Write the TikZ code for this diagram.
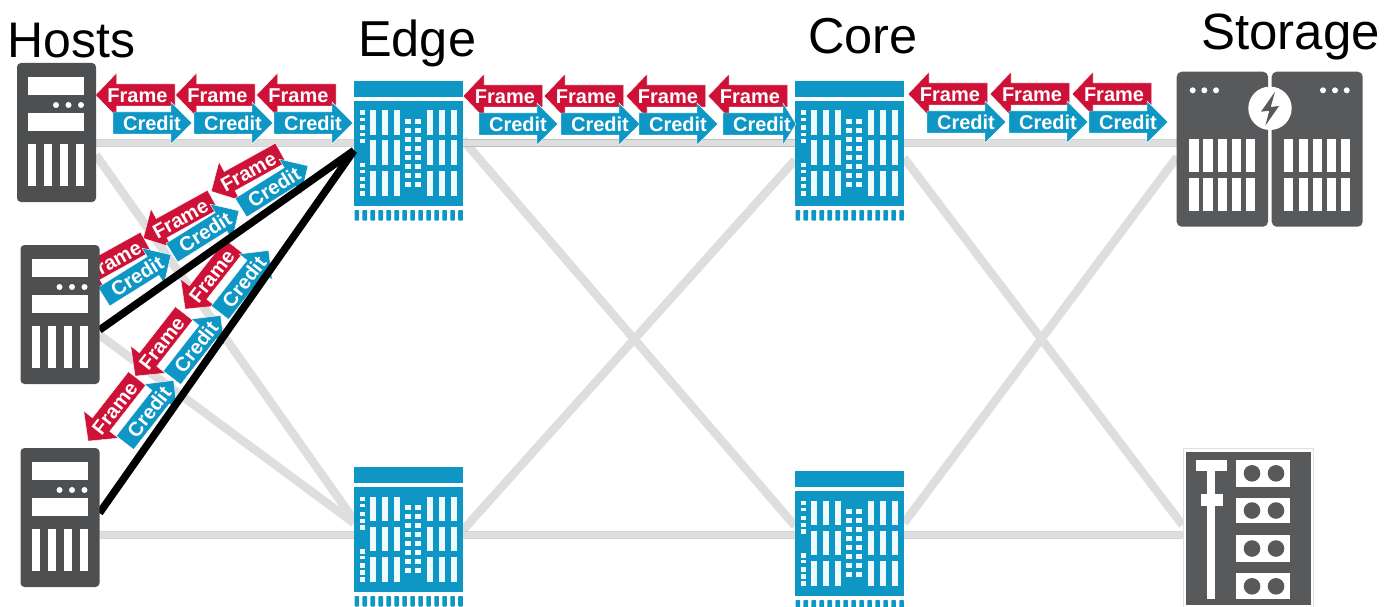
\documentclass[tikz,border=0pt]{standalone}
\usepackage{fontspec}
\setmainfont{Liberation Sans}
\definecolor{sblue}{HTML}{0E96C4}
\definecolor{ared}{HTML}{CE1237}
\definecolor{sdark}{HTML}{4D4F51}
\definecolor{stdark}{HTML}{58595B}
\definecolor{lgray}{HTML}{DEDEDE}
\definecolor{lgedge}{HTML}{BDBDBD}
\definecolor{swhite}{HTML}{EFFAFD}
\tikzset{
  icon/.style={inner sep=0pt,outer sep=0pt,minimum width=#1},
  cell/.style={fill=white,draw=none},
  swcell/.style={fill=swhite,draw=none},
  hlink/.style={draw=lgedge,line width=.9bp,double=lgray,double distance=5.6bp},
  dlink/.style={draw=lgray,line width=8.5bp},
  blink/.style={draw=black,line width=7.5bp},
  arrowtext/.style={text=white,font=\fontsize{20bp}{20bp}\selectfont\bfseries,inner sep=0pt,transform shape},
  title/.style={font=\fontsize{50.5bp}{52bp}\selectfont,anchor=base west,inner sep=0pt,text=black}
}
% name, text centre x, y, rotation
\newcommand{\frameArr}[4]{\begin{scope}[shift={(#2,#3)},rotate=#4]
  \fill[ared,draw=white,line width=.4bp] (-42,0)--(-21,-22)--(-21,-11)--(37.5,-11)--(37.5,11)--(-21,11)--(-21,22)--cycle;
  \node[arrowtext] (#1) at (0,1) {Frame};
\end{scope}}
\newcommand{\creditArr}[4]{\begin{scope}[shift={(#2,#3)},rotate=#4]
  \fill[sblue,draw=white,line width=.4bp] (40,0)--(19,-21)--(19,-11)--(-39,-11)--(-39,11)--(19,11)--(19,21)--cycle;
  \node[arrowtext] (#1) at (0,0) {Credit};
\end{scope}}
\newcommand{\creditShort}[3]{\begin{scope}[shift={(#2,#3)}]
  \fill[sblue,draw=white,line width=.4bp] (34,0)--(21,-21)--(21,-11)--(-39,-11)--(-39,11)--(21,11)--(21,21)--cycle;
  \node[arrowtext] (#1) at (0,0) {Credit};
\end{scope}}
% name, left, top
\newcommand{\srvIcon}[3]{
  \node[icon=79bp,minimum height=139bp,fill=sdark,rounded corners=4bp,anchor=north west] (#1) at (#2,#3) {};
  \begin{scope}[shift={(#2,#3)}]
    \fill[cell] (11,14) rectangle (67,32);
    \fill[cell] (11,50) rectangle (67,68);
    \foreach \dx in {39,51.5,64} \fill[cell] (\dx,42) circle (3bp);
    \foreach \dx in {11,27,43,59} \fill[cell] (\dx,81) rectangle ++(8,42);
  \end{scope}}
\newcommand{\swIcon}[3]{
  \node[icon=109bp,minimum height=139bp,anchor=north west] (#1) at (#2,#3) {};
  \begin{scope}[shift={(#2,#3)}]
    \fill[sblue] (0,0) rectangle (109,16);
    \fill[sblue] (0,20) rectangle (109,125);
    \foreach \i in {0,...,13} \fill[sblue,rounded corners=.8bp] (.5+\i*7.98,129) rectangle ++(4.6,10.5);
    \foreach \bx in {16,27.5,39.5,73,85,96.5} \foreach \by in {29.5,59.5,90} \fill[swcell] (\bx,\by) rectangle ++(6,24.8);
    \foreach \by/\bh in {29.5/4.5,37/3,44.5/4.5,52/3.5,58/4.5,82/4.5,89/3,96/4.5,103/4.5,110/4.5} \fill[swcell] (5.5,\by) rectangle ++(5,\bh);
    \foreach \r in {0,...,7} \foreach \bx in {51,61} \fill[swcell] (\bx,38+\r*9) rectangle ++(6.4,5);
  \end{scope}}
\begin{document}
\begin{tikzpicture}[x=1bp,y=-1bp]
\useasboundingbox (0,0) rectangle (1396,607);
% invisible placement nodes first, so that links can be drawn beneath the icons
\node[icon=79bp,minimum height=139bp,anchor=north west] (h1) at (17,63) {};
\node[icon=79bp,minimum height=140bp,anchor=north west] (h2) at (20.5,245) {};
\node[icon=79bp,minimum height=140bp,anchor=north west] (h3) at (20.5,448) {};
\node[icon=109bp,minimum height=139bp,anchor=north west] (e1) at (354,81) {};
\node[icon=109bp,minimum height=139bp,anchor=north west] (c1) at (795,81) {};
\node[icon=109bp,minimum height=139bp,anchor=north west] (e2) at (354,467) {};
\node[icon=109bp,minimum height=139bp,anchor=north west] (c2) at (795,471) {};
\node[icon=186bp,minimum height=155bp,anchor=north west] (st) at (1177,72) {};
\node[icon=131bp,minimum height=159bp,anchor=north west] (tp) at (1182.5,448) {};
% grey links
\draw[dlink] ([yshift=-22.5bp]h1.east) -- ([yshift=16.5bp]e2.west);
\draw[dlink] ([yshift=-20bp]h2.east) -- ([yshift=13.5bp]e2.west);
\draw[dlink] ([yshift=10.5bp]e1.east) -- ([yshift=14.5bp]c2.west);
\draw[dlink] ([yshift=6.5bp]e2.east) -- ([yshift=-9.5bp]c1.west);
\draw[dlink] ([yshift=-7.5bp]c1.east) -- ([yshift=2.5bp]tp.west);
\draw[dlink] ([yshift=17.5bp]c2.east) -- ([yshift=-7.5bp]st.west);
\draw[hlink] ([yshift=-10.5bp]h1.east) -- ([yshift=7.5bp]e1.west);
\draw[hlink] ([yshift=7.5bp]e1.east) -- ([yshift=7.5bp]c1.west);
\draw[hlink] ([yshift=7.5bp]c1.east) -- ([yshift=6.5bp]st.west);
\draw[hlink] ([yshift=-17bp]h3.east) -- ([yshift=1.5bp]e2.west);
\draw[hlink] ([yshift=1.5bp]e2.east) -- ([yshift=5.5bp]c2.west);
\draw[hlink] ([yshift=5.5bp]c2.east) -- ([yshift=-7.5bp]tp.west);
% switches
\swIcon{e1i}{354}{81}
\swIcon{c1i}{795}{81}
\swIcon{e2i}{354}{467}
\swIcon{c2i}{795}{471}
% storage array
\fill[stdark,rounded corners=5bp] (1176.7,71.7) rectangle (1268,226.7);
\fill[stdark,rounded corners=5bp] (1271.7,71.7) rectangle (1362.7,226.7);
\foreach \dx in {1192.7,1204.3,1216,1323,1335,1346.7} \fill[cell] (\dx,90.3) circle (3bp);
\foreach \bx in {1189.3,1203.3,1217.5,1232,1246,1284,1298.5,1312.7,1326.7,1341} {
  \fill[cell] (\bx,139.3) rectangle ++(9.2,32.4);
  \fill[cell] (\bx,178.3) rectangle ++(9.2,32.4);}
\fill[cell] (1270,108.3) circle (21.7bp);
\fill[stdark] (1275,91.7)--(1261,111.7)--(1269.3,110.7)--(1265.3,125.7)--(1279,106)--(1270.7,107)--cycle;
% tape library
\fill[white,draw=lgray,line width=1bp] (1183,448.5) rectangle (1313,607.5);
\fill[stdark] (1185.7,451.7) rectangle (1311,605);
\fill[cell] (1195.7,460) rectangle (1227.3,470.7);
\fill[cell] (1207.3,470) rectangle (1215,599.3);
\fill[cell] (1201.3,494.3) rectangle (1222.7,506.3);
\foreach \sy/\sh in {460/26.7,497.7/25.6,535.3/26.4,573.3/26} {
  \fill[cell] (1236,\sy) rectangle ++(54,\sh);
  \fill[stdark] (1252,\sy+\sh/2) circle (8.3bp);
  \fill[stdark] (1276,\sy+\sh/2) circle (8.3bp);}
% arrows: top row Hosts-Edge
\frameArr{fa1}{137.5}{95}{0}\frameArr{fa2}{217.5}{95}{0}\frameArr{fa3}{298.5}{95}{0}
\creditArr{ca1}{152}{123}{0}\creditArr{ca2}{233}{123}{0}\creditArr{ca3}{313}{123}{0}
% Edge-Core
\frameArr{fb1}{505}{96}{0}\frameArr{fb2}{586}{96}{0}\frameArr{fb3}{668}{96}{0}\frameArr{fb4}{750}{96}{0}
\creditArr{cb1}{518}{124}{0}\creditArr{cb2}{600}{124}{0}\creditArr{cb3}{678}{124}{0}\creditShort{cb4}{762}{124}
% Core-Storage
\frameArr{fc1}{950}{94}{0}\frameArr{fc2}{1032}{94}{0}\frameArr{fc3}{1114}{94}{0}
\creditArr{cc1}{966}{122}{0}\creditArr{cc2}{1048}{122}{0}\creditArr{cc3}{1128}{122}{0}
% upper diagonal
\frameArr{fd1}{248}{171}{29}\frameArr{fd2}{180}{218}{29}\frameArr{fd3}{113}{260}{29}
\creditArr{cd1}{274}{187}{32}\creditArr{cd2}{205}{232}{32}\creditArr{cd3}{137}{276}{32}
% lower diagonal
\frameArr{fe1}{211}{276}{52}\frameArr{fe2}{161}{343}{52}\frameArr{fe3}{114}{408}{52}
\creditArr{ce1}{244}{282}{52}\creditArr{ce2}{196}{347}{52}\creditArr{ce3}{149}{412}{52}
% black links
\draw[blink] ([yshift=-15bp]h2.east) -- (e1.west);
\draw[blink] ([yshift=5bp]h3.east) -- (e1.west);
% servers
\srvIcon{h1i}{17}{63}
\srvIcon{h2i}{20.5}{245}
\srvIcon{h3i}{20.5}{448}
% titles
\node[title,font=\fontsize{50bp}{52bp}\selectfont] (thosts) at (7,58) {Hosts};
\node[title] (tedge) at (358,57) {Edge};
\node[title] (tcore) at (808,54) {Core};
\node[title,font=\fontsize{51bp}{52bp}\selectfont] (tstor) at (1201,50) {Storage};
\end{tikzpicture}
\end{document}
